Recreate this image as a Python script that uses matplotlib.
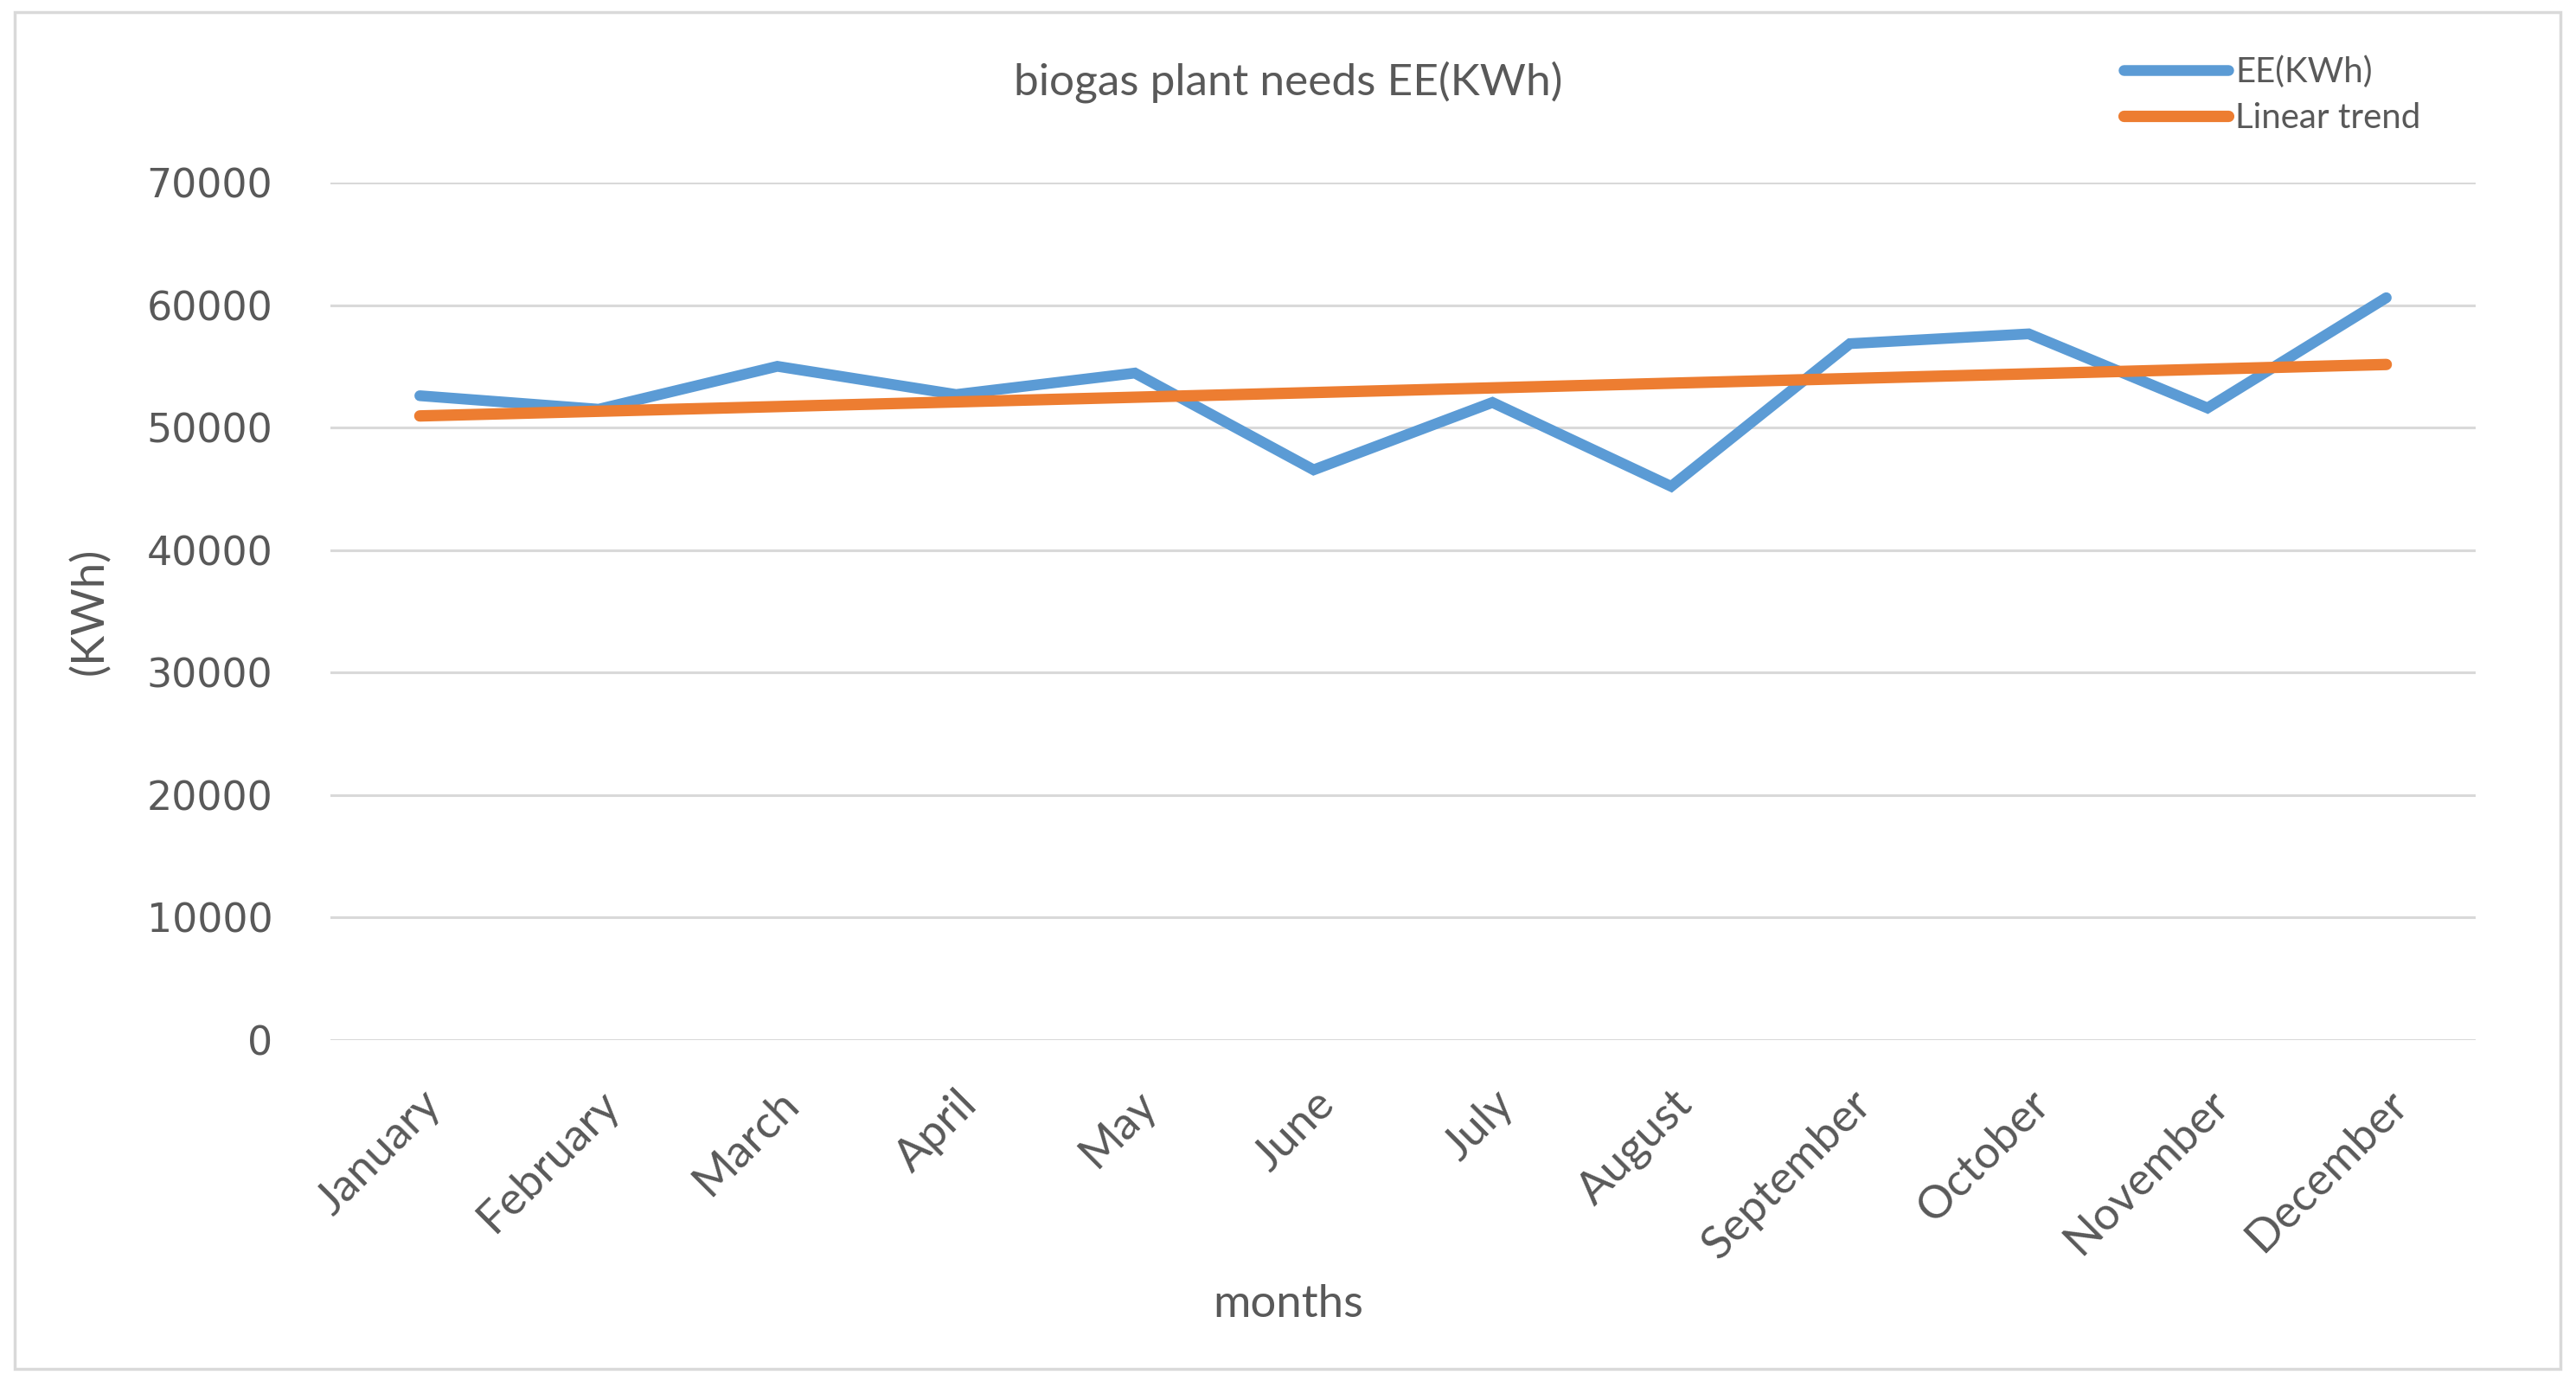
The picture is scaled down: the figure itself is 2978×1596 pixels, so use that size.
"""biogas plant electricity need chart"""
import matplotlib
matplotlib.use("Agg")
import matplotlib.pyplot as plt
from matplotlib.patches import Rectangle

months = ["January", "February", "March", "April", "May", "June",
          "July", "August", "September", "October", "November", "December"]
ee_kwh = [52600, 51500, 55000, 52700, 54450, 46550,
          52050, 45200, 56850, 57650, 51600, 60600]
# linear trend read at first and last month
trend_x = [0, 11]
trend_kwh = [50950, 55150]
y_ticks = [0, 10000, 20000, 30000, 40000, 50000, 60000, 70000]

BLUE = "#5B9BD5"
ORANGE = "#ED7D31"
GRID = "#D9D9D9"
TEXT = "#595959"
W, H = 2978, 1596

fig = plt.figure(figsize=(W / 100, H / 100), dpi=100)
ax = fig.add_axes([382 / W, 1 - 1202 / H, (2862 - 382) / W, (1202 - 211) / H])

x = list(range(len(months)))
ax.plot(x, ee_kwh, color=BLUE, lw=9, solid_capstyle="round",
        solid_joinstyle="miter", label="EE(KWh)", zorder=3)
ax.plot(trend_x, trend_kwh, color=ORANGE, lw=9.5,
        solid_capstyle="round", label="Linear trend", zorder=4)

ax.set_xlim(-0.5, len(months) - 0.5)
ax.set_ylim(0, 70000)
ax.set_yticks(y_ticks)
ax.set_yticklabels([str(v) for v in y_ticks], fontsize=33, color=TEXT,
                   family="DejaVu Sans")
ax.set_xticks(x)
ax.set_xticklabels(months, rotation=45, ha="right", rotation_mode="anchor",
                   fontsize=38, color=TEXT, family="Lato")
ax.tick_params(axis="both", length=0)
ax.tick_params(axis="y", pad=48)
ax.tick_params(axis="x", pad=36)
ax.grid(axis="y", color=GRID, lw=2.2)
ax.set_axisbelow(True)
for s in ax.spines.values():
    s.set_visible(False)

fig.text(0.5, 1 - 95 / H, "biogas plant needs EE(KWh)", ha="center",
         va="center", fontsize=37, color=TEXT, family="Lato")
fig.text(1489 / W, 1 - 1508 / H, "months", ha="center", va="center",
         fontsize=38, color=TEXT, family="Lato")
fig.text(104 / W, 1 - 706 / H, "(KWh)", ha="center", va="center",
         rotation=90, fontsize=38, color=TEXT, family="Lato")

fig.legend(loc="upper left", bbox_to_anchor=(2419 / W, 1 - 28 / H),
           frameon=False, labelcolor=TEXT, handlelength=3.0,
           handletextpad=0.2, labelspacing=0.4,
           prop={"family": "Lato", "size": 29})

fig.patches.append(Rectangle((17 / W, 14 / H), (2960 - 17) / W, (1582 - 14) / H,
                             transform=fig.transFigure, fill=False,
                             edgecolor=GRID, lw=2.5))

fig.savefig("out.png", dpi=100)
